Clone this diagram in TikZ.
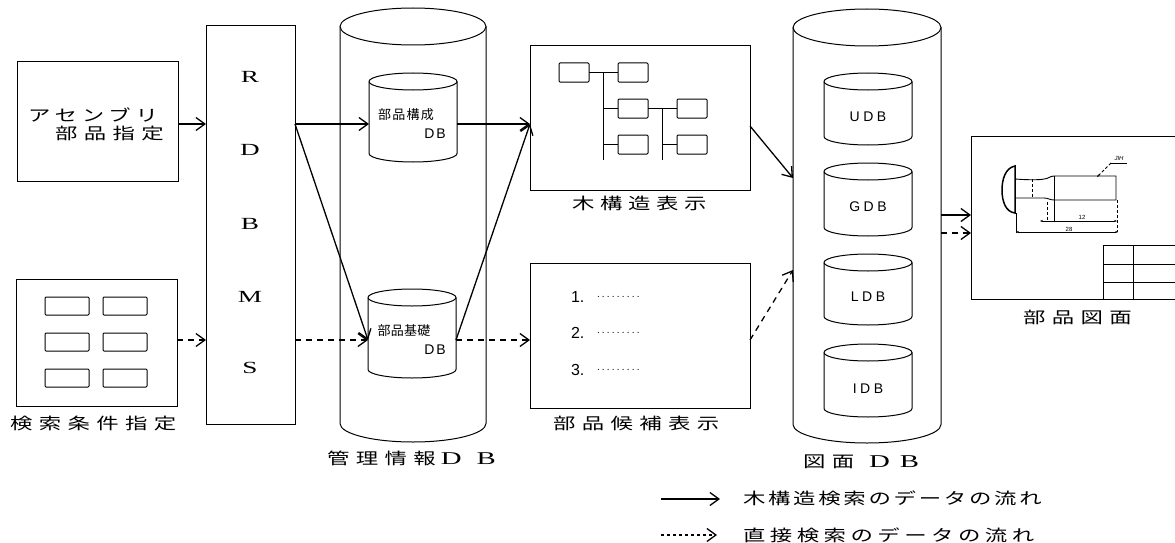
\documentclass[tikz,border=0pt]{standalone}
\usepackage{fontspec}
\usetikzlibrary{arrows.meta}
\newfontfamily\jpa[FakeStretch=1.4]{Noto Sans CJK JP}
\newfontfamily\jpb{Noto Sans CJK JP}
\newfontfamily\wide[FakeStretch=1.6]{Liberation Serif}
\newfontfamily\plain{Liberation Sans}
\newcommand{\ls}[1]{\addfontfeature{LetterSpace=#1}}
\tikzset{
  x=1pt,y=-1pt,
  every node/.style={inner sep=0pt,outer sep=0pt},
  line/.style={draw=black,line width=1pt},
  panel/.style={line,rectangle,anchor=north west},
  holder/.style={rectangle,anchor=center},
  mini/.style={line,rectangle,rounded corners=1pt,anchor=north west,minimum width=30pt,minimum height=19pt},
  cond/.style={line,rectangle,rounded corners=1pt,anchor=north west,minimum width=44pt,minimum height=18pt},
  arr/.style={draw=black,line width=1.3pt,-{Straight Barb[length=9pt,width=13pt,line width=1.3pt]}},
  darr/.style={arr,dash pattern=on 6pt off 5pt},
  captxt/.style={font=\fontsize{16}{16}\selectfont\jpa,anchor=west},
  letter/.style={font=\fontsize{17}{17}\selectfont\wide,anchor=center},
  dbtag/.style={font=\fontsize{14}{14}\selectfont\plain\ls{25},anchor=center},
  tiny/.style={font=\fontsize{6}{6}\selectfont\plain,anchor=center},
  hair/.style={draw=black,line width=0.9pt},
}
% outline of a drum around the named holder node: #1 name, #2 half width, #3 half height of its ellipse
\newcommand{\drum}[3]{%
  \path (#1.north west) ++(0,#3) coordinate (#1-tl);
  \path (#1.north east) ++(0,#3) coordinate (#1-tr);
  \path (#1.south west) ++(0,-#3) coordinate (#1-bl);
  \draw[line] (#1-tl) arc[start angle=180,end angle=-180,x radius=#2,y radius=#3];
  \draw[line] (#1-tl) -- (#1-bl) arc[start angle=180,end angle=0,x radius=#2,y radius=#3] -- (#1-tr);
}
\begin{document}
\begin{tikzpicture}
\useasboundingbox (0,0) rectangle (1175,543);
% panels
\node[panel,minimum width=161pt,minimum height=119pt] (asm) at (17,62) {};
\node[panel,minimum width=161pt,minimum height=127pt] (srch) at (16,279) {};
\node[panel,minimum width=89pt,minimum height=398pt] (rdbms) at (206,26) {};
\node[panel,minimum width=220pt,minimum height=144pt] (tree) at (530,46) {};
\node[panel,minimum width=220pt,minimum height=145pt] (cand) at (530,263) {};
\node[panel,minimum width=204pt,minimum height=163pt] (sheet) at (971,136) {};
% cylinders
\node[holder,minimum width=146pt,minimum height=434pt] (mgmt) at (413,225) {};
\node[holder,minimum width=88pt,minimum height=89pt] (cfg) at (413,117.5) {};
\node[holder,minimum width=88pt,minimum height=89pt] (base) at (412,333.5) {};
\node[holder,minimum width=148pt,minimum height=434pt] (dwg) at (867,226) {};
\node[holder,minimum width=88pt,minimum height=72pt] (udb) at (868,109) {};
\node[holder,minimum width=88pt,minimum height=73pt] (gdb) at (868,199.5) {};
\node[holder,minimum width=88pt,minimum height=71pt] (ldb) at (868,289.5) {};
\node[holder,minimum width=88pt,minimum height=73pt] (idb) at (868,380.5) {};
\drum{mgmt}{73}{18.5}
\drum{cfg}{44}{8.5}
\drum{base}{44}{8.5}
\drum{dwg}{74}{18.5}
\drum{udb}{44}{8.5}
\drum{gdb}{44}{8.5}
\drum{ldb}{44}{8.5}
\drum{idb}{44}{8.5}
% levels
\coordinate (ya) at (0,124);
\coordinate (yb) at (0,340);
\coordinate (yd) at (0,215);
\coordinate (ye) at (0,233);
\coordinate (yf) at (0,126);
\coordinate (yg) at (0,178);
\coordinate (yh) at (0,270);
% connectors
\draw[arr] (asm.east |- ya) -- (rdbms.west |- ya);
\draw[darr] (srch.east |- yb) -- (rdbms.west |- yb);
\draw[arr] (rdbms.east |- ya) -- (cfg.west |- ya);
\draw[arr] (rdbms.east |- ya) -- (base.west |- yb);
\draw[darr] (rdbms.east |- yb) -- (base.west |- yb);
\draw[arr] (cfg.east |- ya) -- (tree.west |- ya);
\draw[arr] (base.east |- yb) -- (tree.west |- ya);
\draw[darr] (base.east |- yb) -- (cand.west |- yb);
\draw[arr] (tree.east |- yf) -- (dwg.west |- yg);
\draw[darr] (cand.east |- yb) -- (dwg.west |- yh);
\draw[arr] (dwg.east |- yd) -- (sheet.west |- yd);
\draw[darr] (dwg.east |- ye) -- (sheet.west |- ye);
% tree content
\node[mini] (t1) at (559,63) {};
\node[mini] (t2) at (618,63) {};
\node[mini] (t3) at (618,99) {};
\node[mini] (t4) at (677,99) {};
\node[mini] (t5) at (618,135) {};
\node[mini] (t6) at (677,135) {};
\coordinate (v1) at (603,160);
\coordinate (v2) at (662,160);
\draw[line] (t1) -- (t2);
\draw[line] (t3) -- (t4);
\draw[line] (v1 |- t1) -- (v1);
\draw[line] (v2 |- t3) -- (v2);
\draw[line] (v1 |- t3) -- (t3);
\draw[line] (v1 |- t5) -- (t5);
\draw[line] (v2 |- t6) -- (t6);
% search boxes
\foreach \n/\xx/\yy in {a/45/297,b/103/297,c/45/333,d/103/333,e/45/369,f/103/369}
  \node[cond] (s\n) at (\xx,\yy) {};
% table
\coordinate (tb) at (1103,245);
\coordinate (tc) at (1133,245);
\coordinate (tr1) at (1175,264);
\coordinate (tr2) at (1175,282);
\draw[line] (tb |- sheet.south) -- (tb) -- (sheet.east |- tb);
\draw[line] (tc |- sheet.south) -- (tc);
\draw[line] (tb |- tr1) -- (tr1);
\draw[line] (tb |- tr2) -- (tr2);
% part
\draw[draw=black,line width=1.5pt] (1015,166) .. controls (1005,168) and (1002,180) .. (1002,190) .. controls (1002,202) and (1006,212) .. (1015,213) -- cycle;
\draw[hair] (1015,179) .. controls (1028,180) and (1040,180) .. (1044,179) .. controls (1048,179) and (1050,176) .. (1054,176) -- (1116,176) -- (1116,200) -- (1054,200) .. controls (1050,200) and (1048,198) .. (1044,198) -- (1015,198);
\draw[hair] (1054,176) -- (1054,221);
\draw[hair,densely dashed] (1032,179) -- (1032,198);
\draw[hair,densely dashed] (1047,202) -- (1047,221);
\draw[hair,densely dashed] (1117,200) -- (1117,232);
\draw[hair] (1016,213) -- (1016,233);
\draw[hair,{Stealth[length=3pt]}-{Stealth[length=3pt]}] (1040,221) -- (1117,221);
\draw[hair,{Stealth[length=3pt]}-{Stealth[length=3pt]}] (1016,232) -- (1118,232);
\draw[hair,densely dashed,{Stealth[length=3pt]}-] (1097,177) -- (1112,162);
\draw[hair] (1110,163) -- (1127,163);
\node[tiny] (d12) at (1082,217) {12};
\node[tiny] (d28) at (1069,229) {28};
\node[tiny] (djh) at (1119,158) {\itshape JIH};
% text
\node[captxt] (l1) at (28,115) {\ls{30}アセンブリ};
\node[captxt] (l2) at (55,133) {\ls{40}部品指定};
\node[captxt] (l3) at (10,423) {\ls{40}検索条件指定};
\node[captxt] (l4) at (572,203) {\ls{35}木構造表示};
\node[captxt] (l5) at (553,423) {\ls{40}部品候補表示};
\node[captxt] (l6) at (1023,317) {\ls{40}部品図面};
\node[captxt] (l7) at (327,458) {\ls{40}管理情報\hspace{5pt}\wide\fontsize{18}{18}\selectfont D\hspace{15pt}B};
\node[captxt] (l8) at (803,462) {\ls{40}図面\hspace{15pt}\wide\fontsize{18}{18}\selectfont D\hspace{10pt}B};
\node[letter] (r1) at (250,77) {R};
\node[letter] (r2) at (250,150) {D};
\node[letter] (r3) at (250,224) {B};
\node[letter] (r4) at (250,297) {M};
\node[letter] (r5) at (250,368) {S};
\node[font=\fontsize{13}{13}\selectfont\jpb,anchor=center] (c1) at (406,115) {\ls{10}部品構成};
\node[dbtag] (c2) at (435,134) {D\hspace{2pt}B};
\node[font=\fontsize{13}{13}\selectfont\jpb,anchor=center] (b1) at (404,331) {\ls{2}部品基礎};
\node[dbtag] (b2) at (435,350) {D\hspace{2pt}B};
\node[dbtag] (u) at (868,117) {UDB};
\node[dbtag] (g) at (868,207) {GDB};
\node[dbtag] (ll) at (868,297) {LDB};
\node[dbtag] (i) at (868,389) {IDB};
\foreach \k/\yy in {1/297,2/333,3/370}{
  \node[font=\fontsize{16}{16}\selectfont\plain,anchor=west] (n\k) at (571,\yy) {\k.};
  \node[font=\fontsize{10}{10}\selectfont\plain\ls{22},anchor=west] (p\k) at (597,\yy) {.........};
}
% legend
\coordinate (ls1) at (661,499);
\coordinate (ls2) at (720,499);
\coordinate (ld1) at (661,535);
\coordinate (ld2) at (717,535);
\draw[arr] (ls1) -- (ls2);
\draw[arr,dash pattern=on 3pt off 3pt] (ld1) -- (ld2);
\node[captxt] (k1) at (743,498) {\ls{17}木構造検索のデータの流れ};
\node[captxt] (k2) at (743,535) {\ls{28}直接検索のデータの流れ};
\end{tikzpicture}
\end{document}
